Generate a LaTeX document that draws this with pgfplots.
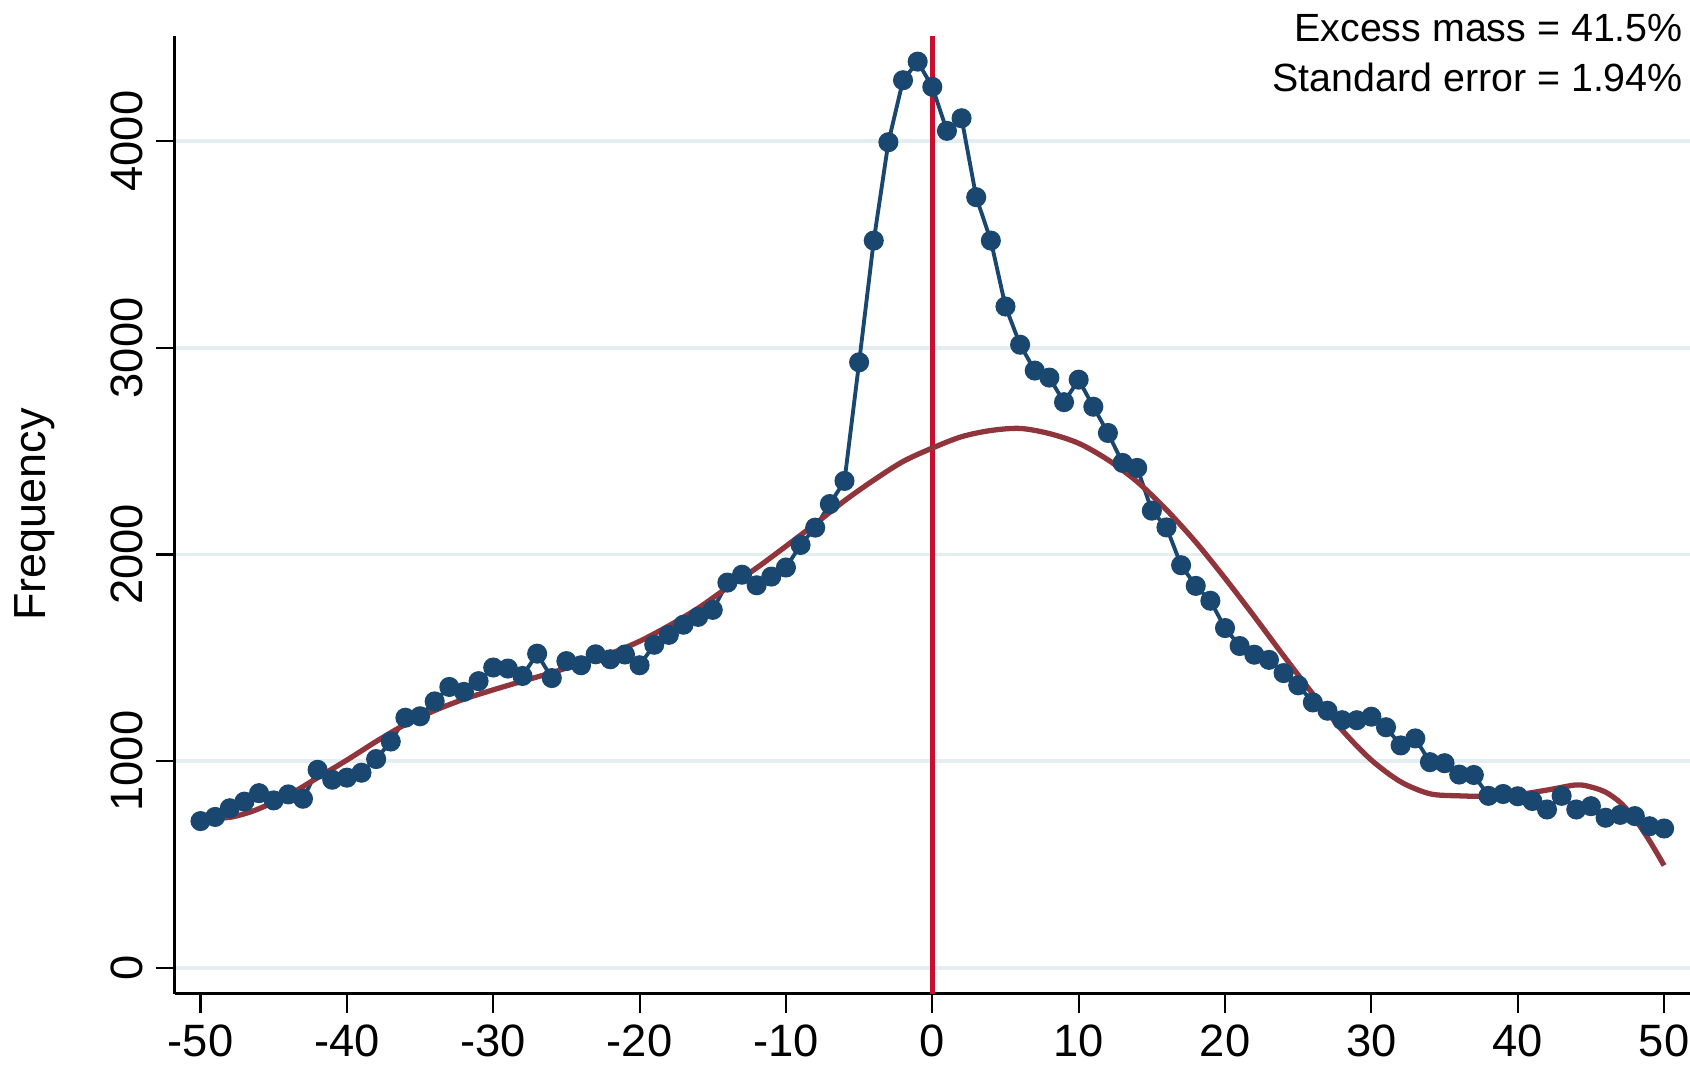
\documentclass[border=0pt]{standalone}
\usepackage{fontspec}
\setmainfont{Liberation Sans}
\usepackage{pgfplots}
\pgfplotsset{compat=1.18}
\definecolor{navyS}{RGB}{26,71,111}
\definecolor{maroonS}{RGB}{144,53,59}
\definecolor{vred}{RGB}{200,16,46}
\definecolor{gridc}{RGB}{228,238,240}
\begin{document}
\begin{tikzpicture}
\begin{axis}[name=ax,
 width=15.154cm, height=9.58cm, scale only axis,
 xmin=-51.77, xmax=51.77, ymin=-125, ymax=4511,
 axis x line*=bottom, axis y line*=left,
 axis line style={line width=0.65pt, -},
 xtick={-50,-40,...,50}, xticklabels={-50,-40,-30,-20,-10,0,10,20,30,40,50},
 ytick={0,1000,2000,3000,4000}, yticklabels={0,1000,2000,3000,4000},
 tick align=outside, major tick length=0.19cm,
 tick style={line width=0.6pt, black},
 ymajorgrids, major grid style={gridc, line width=1.0pt},
 yticklabel style={rotate=90, anchor=south, font=\fontsize{12.9}{14}\selectfont},
 xticklabel style={font=\fontsize{12.9}{14}\selectfont},
 ylabel={Frequency}, ylabel style={font=\fontsize{12.8}{14}\selectfont},
 ylabel shift=0.32cm,
]
\addplot[vred, line width=1.4pt] coordinates {(0,-125) (0,4511)};
\addplot[navyS, line width=1.1pt, mark=*, mark size=2.3pt, mark options={solid, fill=navyS, draw=navyS}] coordinates {
(-50,710) (-49,730) (-48,772) (-47,804) (-46,845) (-45,810) (-44,839) (-43,818) (-42,958) (-41,910)
(-40,920) (-39,944) (-38,1010) (-37,1095) (-36,1210) (-35,1217) (-34,1289) (-33,1359) (-32,1335) (-31,1387)
(-30,1453) (-29,1448) (-28,1412) (-27,1520) (-26,1402) (-25,1484) (-24,1464) (-23,1517) (-22,1493) (-21,1516)
(-20,1464) (-19,1563) (-18,1611) (-17,1660) (-16,1698) (-15,1732) (-14,1864) (-13,1902) (-12,1851) (-11,1893)
(-10,1937) (-9,2046) (-8,2130) (-7,2244) (-6,2356) (-5,2930) (-4,3519) (-3,3995) (-2,4295) (-1,4385)
(0,4263) (1,4050) (2,4111) (3,3729) (4,3519) (5,3200) (6,3015) (7,2890) (8,2856) (9,2737)
(10,2846) (11,2715) (12,2588) (13,2443) (14,2419) (15,2212) (16,2131) (17,1948) (18,1848) (19,1776)
(20,1644) (21,1557) (22,1515) (23,1490) (24,1426) (25,1367) (26,1284) (27,1244) (28,1198) (29,1198)
(30,1215) (31,1164) (32,1076) (33,1110) (34,995) (35,990) (36,935) (37,933) (38,832) (39,841)
(40,830) (41,807) (42,766) (43,832) (44,766) (45,782) (46,726) (47,740) (48,734) (49,685) (50,674)
};
\addplot[maroonS, line width=1.5pt, smooth] coordinates {
(-50,740) (-49,727) (-48,728) (-47,745) (-46,770) (-44,835) (-42,920) (-40,1005) (-38,1095) (-36,1178)
(-34,1245) (-32,1300) (-30,1345) (-28,1387) (-26,1428) (-24,1474) (-22,1520) (-20,1580) (-18,1655) (-16,1740)
(-14,1840) (-12,1935) (-10,2040) (-8,2148) (-6,2260) (-4,2360) (-2,2450) (0,2515) (2,2570) (4,2600)
(6,2610) (8,2585) (10,2538) (12,2458) (14,2352) (16,2216) (18,2060) (20,1885) (22,1700) (24,1510)
(26,1325) (28,1150) (30,1005) (32,900) (34,842) (36,832) (38,830) (40,838) (42,860) (44,885)
(45,875) (46,850) (47,800) (48,720) (49,615) (50,495)
};
\end{axis}
\node[anchor=east, inner sep=0pt, font=\fontsize{11.2}{13}\selectfont] at ([xshift=-0.065cm, yshift=0.076cm]ax.north east) {Excess mass = 41.5\%};
\node[anchor=east, inner sep=0pt, font=\fontsize{11.2}{13}\selectfont] at ([xshift=-0.065cm, yshift=-0.42cm]ax.north east) {Standard error = 1.94\%};
\pgfresetboundingbox
\path ([xshift=-1.746cm, yshift=-0.763cm]ax.south west) rectangle ([yshift=0.356cm]ax.north east);
\end{tikzpicture}
\end{document}
